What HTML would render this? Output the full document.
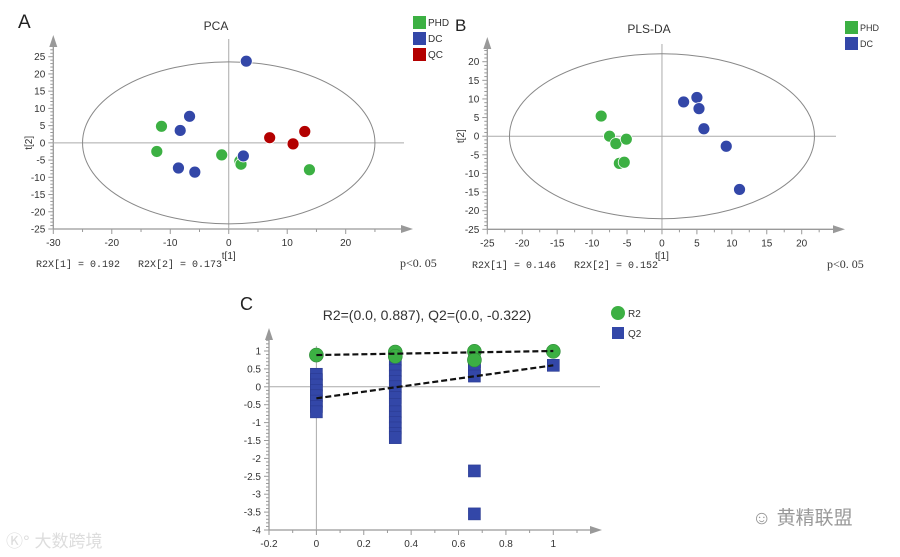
<!DOCTYPE html>
<html><head><meta charset="utf-8"><style>
html,body{margin:0;padding:0;background:#fff;width:900px;height:557px;overflow:hidden}
svg{display:block;font-family:"Liberation Sans","Noto Sans CJK SC",sans-serif}
.pre{white-space:pre}
</style></head><body>
<svg id="s" width="900" height="557" viewBox="0 0 900 557"></svg>
<script>
// ===== Panel A data (PCA) =====
const pcaPhdX=[-11.5,-12.3,-1.2,1.9,2.1,13.8];
const pcaPhdY=[4.8,-2.5,-3.5,-5.3,-6.2,-7.8];
const pcaDcX=[3,-6.7,-8.3,-8.6,-5.8,2.5];
const pcaDcY=[23.7,7.7,3.6,-7.3,-8.5,-3.8];
const pcaQcX=[7,11,13];
const pcaQcY=[1.5,-0.3,3.3];
const pcaXTicks=[-30,-20,-10,0,10,20];
const pcaYTicks=[25,20,15,10,5,0,-5,-10,-15,-20,-25];
// ===== Panel B data (PLS-DA) =====
const plsPhdX=[-8.7,-7.5,-6.6,-5.1,-6.1,-5.4];
const plsPhdY=[5.4,0,-2,-0.8,-7.3,-7];
const plsDcX=[3.1,5,5.3,6,9.2,11.1];
const plsDcY=[9.2,10.4,7.4,2,-2.7,-14.3];
const plsXTicks=[-25,-20,-15,-10,-5,0,5,10,15,20];
const plsYTicks=[20,15,10,5,0,-5,-10,-15,-20,-25];
// ===== Panel C data (permutation) =====
const r2X=[0,0.333,0.333,0.667,0.667,1];
const r2Y=[0.887,0.97,0.85,0.99,0.75,0.99];
const q2X=[0,0,0,0,0,0,0,0,0.333,0.333,0.333,0.333,0.333,0.333,0.333,0.333,0.333,0.333,0.333,0.333,0.333,0.333,0.333,0.667,0.667,0.667,0.667,0.667,0.667,1];
const q2Y=[0.35,0.2,0.05,-0.1,-0.25,-0.4,-0.55,-0.7,0.75,0.6,0.45,0.3,0.15,0,-0.15,-0.3,-0.5,-0.7,-0.85,-1.0,-1.15,-1.3,-1.42,0.7,0.55,0.45,0.3,-2.35,-3.55,0.6];
const r2Line=[0.887,1.0];
const q2Line=[-0.322,0.6];
const cXTicks=[-0.2,0,0.2,0.4,0.6,0.8,1];
const cYTicks=[1,0.5,0,-0.5,-1,-1.5,-2,-2.5,-3,-3.5,-4];

const NS="http://www.w3.org/2000/svg";
const svg=document.getElementById('s');
function el(tag,attrs,parent){const e=document.createElementNS(NS,tag);for(const k in attrs)e.setAttribute(k,attrs[k]);(parent||svg).appendChild(e);return e;}
function txt(s,attrs,parent){const e=el('text',attrs,parent);e.textContent=s;return e;}
function lin(d0,p0,d1,p1){return v=>p0+(v-d0)*(p1-p0)/(d1-d0);}
const GREEN='#3cb043',BLUE='#3347a8',RED='#b30000',AX='#999';

function axes(g,sx,sy,xTicks,yTicks,xMaxPx,yBot,yTopPx,xStep,yStep,fmt){
  const x0=sx(xTicks[0]);
  let a=el('line',{x1:x0,y1:yBot,x2:xMaxPx,y2:yBot,stroke:AX,'stroke-width':1.3},g);
  
  el('polygon',{points:`${xMaxPx+10},${yBot} ${xMaxPx-2},${yBot-4} ${xMaxPx-2},${yBot+4}`,fill:AX},g);
  a=el('line',{x1:x0,y1:yBot,x2:x0,y2:yTopPx,stroke:AX,'stroke-width':1.3},g);
  
  el('polygon',{points:`${x0},${yTopPx-10} ${x0-4},${yTopPx+2} ${x0+4},${yTopPx+2}`,fill:AX},g);
  xTicks.forEach(v=>{const x=sx(v);el('line',{x1:x,y1:yBot,x2:x,y2:yBot+5,stroke:AX},g);
    const m=sx(v+xStep/2);if(m<xMaxPx)el('line',{x1:m,y1:yBot,x2:m,y2:yBot+3,stroke:AX},g);
    const t=txt(fmt(v),{x:x,y:yBot+17,'font-size':10,fill:'#333','text-anchor':'middle'},g);
    });
  yTicks.forEach(v=>{const y=sy(v);el('line',{x1:x0-5,y1:y,x2:x0,y2:y,stroke:AX},g);
    for(let k=1;k<5;k++){const m=sy(v+yStep*k/5);if(m>yTopPx)el('line',{x1:x0-3,y1:m,x2:x0,y2:m,stroke:AX},g);}
    const t=txt(fmt(v),{x:x0-8,y:y+3.5,'font-size':10,fill:'#333','text-anchor':'end'},g);
    });
}
function dots(g,xs,ys,sx,sy,color,name){
  xs.forEach((v,i)=>{const c=el('circle',{cx:sx(v),cy:sy(ys[i]),r:6,fill:color,stroke:'#fff','stroke-width':0.8},g);
    });
}
function legendSq(g,x,y,color,label,fs,name){
  const r=el('rect',{x:x,y:y-6,width:13,height:13,fill:color},g);
  
  txt(label,{x:x+15,y:y+4,'font-size':fs,fill:'#333'},g);
}

// ---------- Panel A ----------
(function(){
  const g=el('g',{});
  const sx=lin(-30,53.3,20,345.7), sy=lin(25,56.7,-25,229);
  txt('A',{x:18,y:28,'font-size':19,fill:'#222'},g);
  const t=txt('PCA',{x:216,y:30,'font-size':12,fill:'#333','text-anchor':'middle'},g);
  axes(g,sx,sy,pcaXTicks,pcaYTicks,403,229,45,10,5,v=>String(v));
  el('line',{x1:53,y1:sy(0),x2:404,y2:sy(0),stroke:'#aaa'},g);
  el('line',{x1:sx(0),y1:39,x2:sx(0),y2:229,stroke:'#aaa'},g);
  const e=el('ellipse',{cx:sx(0),cy:sy(0),rx:sx(25)-sx(0),ry:81,fill:'none',stroke:'#888'},g);
  dots(g,pcaPhdX,pcaPhdY,sx,sy,GREEN,'phd-point');
  dots(g,pcaDcX,pcaDcY,sx,sy,BLUE,'dc-point');
  dots(g,pcaQcX,pcaQcY,sx,sy,RED,'qc-point');
  txt('t[1]',{x:sx(0),y:259,'font-size':10,fill:'#333','text-anchor':'middle'},g);
  txt('t[2]',{x:0,y:0,'font-size':10,fill:'#333','text-anchor':'middle',transform:`translate(32,${sy(0)}) rotate(-90)`},g);
  txt('R2X[1] = 0.192   R2X[2] = 0.173',{x:36,y:267,'font-size':10,fill:'#333','font-family':'Liberation Mono,monospace','class':'pre'},g);
  txt('p<0. 05',{x:400,y:267,'font-size':12,fill:'#333','font-family':'Liberation Serif,serif'},g);
  legendSq(g,413,22,GREEN,'PHD',10,'legend-phd');
  legendSq(g,413,38,BLUE,'DC',10,'legend-dc');
  legendSq(g,413,54,RED,'QC',10,'legend-qc');
})();

// ---------- Panel B ----------
(function(){
  const g=el('g',{});
  const sx=lin(-25,487.3,20,801.7), sy=lin(20,61.7,-25,229.3);
  txt('B',{x:455,y:31,'font-size':17,fill:'#222'},g);
  const t=txt('PLS-DA',{x:649,y:33,'font-size':12,fill:'#333','text-anchor':'middle'},g);
  axes(g,sx,sy,plsXTicks,plsYTicks,835,229.3,47,5,5,v=>String(v));
  el('line',{x1:487,y1:sy(0),x2:836,y2:sy(0),stroke:'#aaa'},g);
  el('line',{x1:sx(0),y1:44,x2:sx(0),y2:229,stroke:'#aaa'},g);
  const e=el('ellipse',{cx:sx(0),cy:sy(0),rx:152.5,ry:82.5,fill:'none',stroke:'#888'},g);
  dots(g,plsPhdX,plsPhdY,sx,sy,GREEN,'phd-point');
  dots(g,plsDcX,plsDcY,sx,sy,BLUE,'dc-point');
  txt('t[1]',{x:sx(0),y:259,'font-size':10,fill:'#333','text-anchor':'middle'},g);
  txt('t[2]',{x:0,y:0,'font-size':10,fill:'#333','text-anchor':'middle',transform:`translate(464,${sy(0)}) rotate(-90)`},g);
  txt('R2X[1] = 0.146   R2X[2] = 0.152',{x:472,y:268,'font-size':10,fill:'#333','font-family':'Liberation Mono,monospace','class':'pre'},g);
  txt('p<0. 05',{x:827,y:268,'font-size':12,fill:'#333','font-family':'Liberation Serif,serif'},g);
  legendSq(g,845,27,GREEN,'PHD',9,'legend-phd');
  legendSq(g,845,43,BLUE,'DC',9,'legend-dc');
})();

// ---------- Panel C ----------
(function(){
  const g=el('g',{});
  const sx=lin(-0.2,269,1,553.3), sy=lin(1,351,-4,530);
  txt('C',{x:240,y:310,'font-size':18,fill:'#222'},g);
  const t=txt('R2=(0.0, 0.887), Q2=(0.0, -0.322)',{x:427,y:320,'font-size':14,fill:'#333','text-anchor':'middle'},g);
  axes(g,sx,sy,cXTicks,cYTicks,592,530,338,0.2,0.5,v=>String(Math.round(v*10)/10));
  el('line',{x1:269,y1:sy(0),x2:600,y2:sy(0),stroke:'#aaa'},g);
  el('line',{x1:sx(0),y1:346,x2:sx(0),y2:530,stroke:'#aaa'},g);
  q2X.forEach((v,i)=>{const r=el('rect',{x:sx(v)-6,y:sy(q2Y[i])-6,width:12,height:12,fill:BLUE,stroke:'#2a3a90','stroke-width':0.6},g);
    });
  r2X.forEach((v,i)=>{const c=el('circle',{cx:sx(v),cy:sy(r2Y[i]),r:7,fill:GREEN,stroke:'#2e8b38','stroke-width':0.6},g);
    });
  let l=el('line',{x1:sx(0),y1:sy(r2Line[0]),x2:sx(1),y2:sy(r2Line[1]),stroke:'#111','stroke-width':2.2,'stroke-dasharray':'6,3'},g);
  
  l=el('line',{x1:sx(0),y1:sy(q2Line[0]),x2:sx(1),y2:sy(q2Line[1]),stroke:'#111','stroke-width':2.2,'stroke-dasharray':'6,3'},g);
  
  let c=el('circle',{cx:618,cy:313,r:7,fill:GREEN},g);
  txt('R2',{x:628,y:317,'font-size':10,fill:'#333'},g);
  c=el('rect',{x:612,y:327,width:12,height:12,fill:BLUE},g);
  txt('Q2',{x:628,y:337,'font-size':10,fill:'#333'},g);
})();

let w=txt('Ⓚ° 大数跨境',{x:6,y:547,'font-size':17,fill:'#ddd'});
w=txt('☺ 黄精联盟',{x:752,y:524,'font-size':19,fill:'#999'});
</script>
</body></html>
